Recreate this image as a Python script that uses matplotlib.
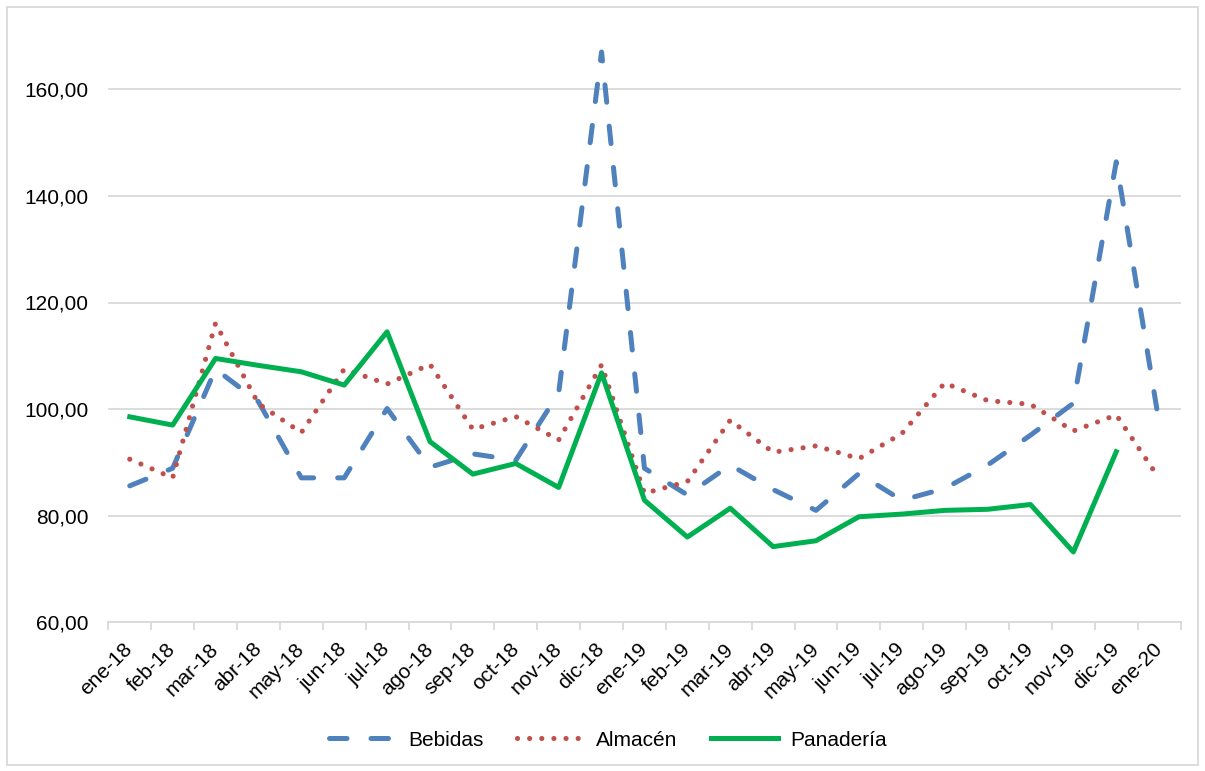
import matplotlib
matplotlib.use("Agg")
import matplotlib.pyplot as plt
from matplotlib.ticker import FuncFormatter, FixedLocator
from matplotlib.patches import Rectangle

plt.rcParams['font.family'] = ['Liberation Sans', 'DejaVu Sans']

meses = ['ene-18', 'feb-18', 'mar-18', 'abr-18', 'may-18', 'jun-18', 'jul-18',
         'ago-18', 'sep-18', 'oct-18', 'nov-18', 'dic-18', 'ene-19', 'feb-19',
         'mar-19', 'abr-19', 'may-19', 'jun-19', 'jul-19', 'ago-19', 'sep-19',
         'oct-19', 'nov-19', 'dic-19', 'ene-20']

bebidas = [85.6, 88.9, 107.5, 101.4, 87.1, 87.1, 100.1, 89.1, 91.6, 90.4, 103.0,
           167.0, 88.9, 83.9, 89.5, 84.9, 81.0, 87.9, 82.9, 85.1, 89.5, 95.1,
           101.1, 146.4, 97.4]
almacen = [90.6, 87.1, 116.1, 101.0, 95.6, 107.5, 104.7, 108.4, 96.2, 98.6, 94.2,
           108.3, 84.2, 86.4, 97.9, 91.9, 93.1, 90.7, 95.4, 104.9, 101.6, 100.9,
           95.9, 98.9, 87.0]
panaderia = [98.55, 97.0, 109.5, 108.2, 107.0, 104.5, 114.5, 93.9, 87.8, 89.8, 85.3,
             106.8, 82.9, 76.0, 81.4, 74.2, 75.3, 79.8, 80.3, 81.0, 81.2, 82.1,
             73.2, 92.0]

fig = plt.figure(figsize=(12.05, 7.71), dpi=100)
ax = fig.add_axes([108.3 / 1205, 1 - 622.3 / 771, (1180.6 - 108.3) / 1205, (622.3 - 36) / 771])

x = list(range(len(meses)))
ax.plot(x, bebidas, color='#4F81BD', lw=3.6, dashes=(3.5, 4.8),
        dash_capstyle='round', solid_capstyle='round', label='Bebidas')
ax.plot(x, almacen, color='#C0504D', lw=3.7, dashes=(0.01, 2.35),
        dash_capstyle='round', label='Almacén')
ax.plot(x[:len(panaderia)], panaderia, color='#00B050', lw=3.6, label='Panadería')

ax.set_xlim(-0.5, len(meses) - 0.5)
ax.set_ylim(60, 170)
ax.set_yticks([60, 80, 100, 120, 140, 160])
ax.yaxis.set_major_formatter(FuncFormatter(lambda v, p: f"{v:.2f}".replace('.', ',')))
ax.grid(axis='y', color='#D9D9D9', lw=1.3)
ax.set_axisbelow(True)

for s in ['top', 'right', 'left']:
    ax.spines[s].set_visible(False)
ax.spines['bottom'].set_color('#D9D9D9')
ax.spines['bottom'].set_linewidth(1.3)

ax.set_xticks(x)
ax.set_xticklabels(meses, rotation=45, ha='right', va='center', rotation_mode='anchor')
ax.xaxis.set_minor_locator(FixedLocator([i - 0.5 for i in range(len(meses) + 1)]))
ax.tick_params(axis='x', which='major', length=0, pad=17, labelsize=15, labelcolor='black')
ax.tick_params(axis='x', which='minor', length=6, width=1.3, color='#D9D9D9')
ax.tick_params(axis='y', length=0, pad=14, labelsize=15, labelcolor='black')

fig.legend(loc='center', bbox_to_anchor=(0.5045, 1 - 740 / 771), ncol=3, frameon=False,
           fontsize=15, handlelength=3.2, handletextpad=0.6, columnspacing=1.6)

fig.patches.append(Rectangle((7 / 1205, 6 / 771), 1191 / 1205, 758 / 771,
                             transform=fig.transFigure, fill=False,
                             edgecolor='#D9D9D9', lw=1.3))

fig.savefig('out.png', dpi=100)
